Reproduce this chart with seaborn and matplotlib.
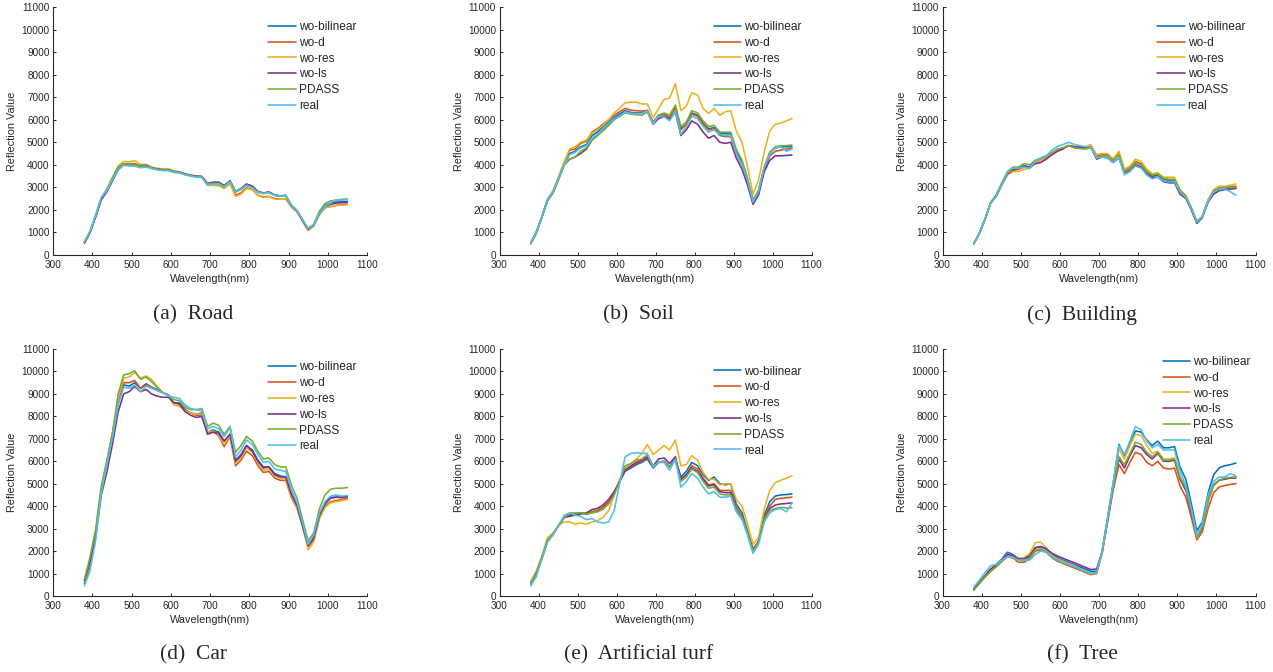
import matplotlib
matplotlib.use("Agg")
import pandas as pd
import matplotlib.pyplot as plt
import seaborn as sns

wavelength = [380, 394, 409, 423, 437, 452, 466, 480, 494, 508, 523, 537, 551, 565, 580, 594,
              608, 622, 637, 651, 665, 679, 694, 708, 722, 736, 751, 765, 779, 793, 808, 822,
              836, 850, 865, 879, 893, 907, 922, 936, 950, 964, 979, 993, 1007, 1021, 1036, 1050]

methods = ["wo-bilinear", "wo-d", "wo-res", "wo-ls", "PDASS", "real"]
colors = ["#0072BD", "#D95319", "#EDB120", "#7E2F8E", "#77AC30", "#4DBEEE"]

# (a) Road
road_bilinear = [560, 1000, 1750, 2500, 2850, 3350, 3850, 4050, 4000, 4000, 3920, 3950, 3850, 3800, 3760, 3760, 3680, 3660, 3570, 3520, 3480, 3470, 3150, 3200, 3220, 3070, 3280, 2800, 2920, 3130, 3030, 2820, 2740, 2780, 2650, 2620, 2640, 2200, 1950, 1550, 1150, 1330, 1900, 2200, 2300, 2350, 2370, 2380]
road_d = [550, 1000, 1750, 2500, 2850, 3400, 3900, 4050, 4050, 4050, 3950, 3980, 3870, 3820, 3770, 3780, 3700, 3680, 3580, 3520, 3480, 3460, 3100, 3100, 3080, 2980, 3200, 2650, 2760, 2980, 2900, 2650, 2580, 2600, 2500, 2480, 2480, 2150, 1900, 1500, 1100, 1300, 1800, 2100, 2150, 2200, 2230, 2250]
road_res = [550, 1000, 1750, 2520, 2900, 3450, 3950, 4150, 4130, 4180, 4020, 4020, 3900, 3850, 3820, 3830, 3730, 3700, 3600, 3540, 3500, 3480, 3120, 3100, 3070, 2950, 3150, 2600, 2700, 2950, 2900, 2650, 2550, 2600, 2480, 2480, 2480, 2150, 1900, 1500, 1080, 1280, 1800, 2100, 2150, 2200, 2210, 2230]
road_ls = [520, 980, 1700, 2450, 2800, 3300, 3780, 4000, 4000, 4000, 3950, 3980, 3870, 3820, 3780, 3780, 3700, 3680, 3590, 3540, 3500, 3490, 3180, 3230, 3230, 3080, 3300, 2820, 2950, 3150, 3060, 2820, 2750, 2800, 2660, 2620, 2640, 2180, 1950, 1520, 1150, 1320, 1850, 2150, 2250, 2300, 2320, 2330]
road_pdass = [560, 1000, 1750, 2550, 2900, 3450, 3900, 4050, 4020, 4000, 3930, 3950, 3860, 3800, 3770, 3770, 3690, 3670, 3570, 3520, 3480, 3470, 3150, 3180, 3180, 3050, 3270, 2820, 2930, 3100, 3000, 2800, 2740, 2780, 2650, 2620, 2640, 2230, 1970, 1560, 1180, 1350, 1950, 2280, 2400, 2430, 2470, 2480]
road_real = [600, 1050, 1800, 2550, 2850, 3350, 3800, 3980, 3950, 3940, 3870, 3900, 3830, 3780, 3740, 3740, 3660, 3640, 3550, 3500, 3450, 3440, 3100, 3150, 3150, 3020, 3250, 2800, 2900, 3080, 2980, 2780, 2720, 2760, 2640, 2600, 2620, 2200, 1950, 1550, 1180, 1330, 1850, 2150, 2300, 2450, 2430, 2480]

# (b) Soil
soil_bilinear = [550, 1000, 1700, 2450, 2800, 3450, 4050, 4500, 4600, 4800, 4900, 5300, 5450, 5700, 5900, 6100, 6250, 6400, 6320, 6300, 6300, 6380, 5850, 6180, 6220, 6050, 6550, 5600, 5800, 6300, 6200, 5850, 5600, 5650, 5400, 5380, 5380, 4600, 4100, 3350, 2400, 2850, 3900, 4550, 4750, 4800, 4800, 4800]
soil_d = [550, 1000, 1700, 2450, 2800, 3450, 4100, 4650, 4700, 4950, 5050, 5450, 5600, 5800, 6000, 6200, 6350, 6500, 6420, 6400, 6380, 6420, 5900, 6200, 6250, 6100, 6550, 5550, 5800, 6250, 6150, 5800, 5550, 5600, 5300, 5250, 5250, 4500, 4000, 3300, 2350, 2800, 3800, 4400, 4600, 4650, 4700, 4720]
soil_res = [550, 1000, 1700, 2500, 2850, 3500, 4150, 4700, 4800, 5000, 5100, 5400, 5550, 5750, 6000, 6300, 6500, 6750, 6780, 6780, 6700, 6700, 6100, 6500, 6900, 6950, 7600, 6400, 6600, 7200, 7100, 6500, 6280, 6500, 6200, 6350, 6400, 5500, 5000, 3900, 2700, 3300, 4600, 5500, 5800, 5850, 5950, 6050]
soil_ls = [500, 950, 1700, 2400, 2750, 3400, 4000, 4250, 4350, 4500, 4700, 5100, 5300, 5550, 5800, 6050, 6150, 6350, 6300, 6300, 6300, 6400, 5800, 6050, 6150, 6000, 6350, 5300, 5550, 5950, 5800, 5450, 5180, 5300, 5000, 4950, 5000, 4300, 3800, 3100, 2250, 2650, 3700, 4200, 4400, 4400, 4420, 4430]
soil_pdass = [500, 950, 1700, 2400, 2750, 3350, 4000, 4250, 4350, 4600, 4750, 5100, 5300, 5500, 5750, 6000, 6150, 6300, 6250, 6220, 6200, 6350, 5800, 6200, 6300, 6200, 6650, 5700, 5900, 6400, 6300, 5950, 5700, 5750, 5450, 5450, 5450, 4700, 4200, 3400, 2450, 2850, 3900, 4550, 4800, 4850, 4850, 4880]
soil_real = [550, 1000, 1700, 2450, 2800, 3400, 4000, 4450, 4550, 4750, 4850, 5200, 5350, 5600, 5850, 6050, 6150, 6350, 6280, 6280, 6280, 6400, 5850, 6150, 6150, 5950, 6400, 5350, 5700, 6150, 6050, 5700, 5450, 5550, 5350, 5300, 5300, 4500, 4000, 3300, 2350, 2800, 3900, 4500, 4750, 4800, 4600, 4700]

# (c) Building
building_bilinear = [500, 950, 1600, 2300, 2650, 3200, 3650, 3800, 3850, 3950, 3900, 4150, 4250, 4350, 4500, 4650, 4750, 4850, 4800, 4780, 4750, 4780, 4350, 4420, 4400, 4200, 4450, 3700, 3850, 4100, 4000, 3700, 3500, 3550, 3350, 3300, 3300, 2800, 2550, 2050, 1450, 1700, 2400, 2800, 2900, 2950, 2980, 3000]
building_d = [500, 950, 1600, 2300, 2600, 3150, 3600, 3750, 3800, 3900, 3850, 4100, 4200, 4300, 4500, 4650, 4750, 4850, 4800, 4780, 4780, 4800, 4400, 4450, 4450, 4250, 4500, 3750, 3900, 4150, 4050, 3750, 3550, 3600, 3400, 3350, 3350, 2850, 2600, 2050, 1450, 1700, 2450, 2850, 3000, 3000, 3030, 3050]
building_res = [500, 950, 1600, 2300, 2600, 3100, 3550, 3700, 3700, 3800, 3850, 4100, 4200, 4300, 4500, 4650, 4750, 4850, 4780, 4780, 4800, 4900, 4450, 4500, 4500, 4250, 4600, 3800, 3950, 4250, 4150, 3800, 3600, 3650, 3450, 3450, 3450, 2900, 2650, 2100, 1500, 1700, 2450, 2900, 3050, 3050, 3100, 3150]
building_ls = [500, 950, 1600, 2300, 2600, 3150, 3600, 3800, 3850, 3950, 3900, 4050, 4100, 4250, 4450, 4600, 4700, 4850, 4800, 4780, 4750, 4780, 4250, 4350, 4300, 4100, 4300, 3650, 3750, 4000, 3900, 3600, 3450, 3450, 3250, 3200, 3200, 2700, 2500, 2000, 1400, 1650, 2350, 2700, 2850, 2900, 2920, 2950]
building_pdass = [500, 950, 1600, 2350, 2650, 3200, 3700, 3900, 3900, 4050, 4000, 4200, 4300, 4400, 4550, 4700, 4750, 4850, 4750, 4720, 4700, 4750, 4350, 4400, 4400, 4200, 4450, 3700, 3850, 4100, 4000, 3700, 3550, 3600, 3400, 3350, 3350, 2850, 2600, 2100, 1500, 1700, 2400, 2850, 2950, 3000, 3000, 3000]
building_real = [500, 950, 1600, 2300, 2600, 3150, 3650, 3850, 3850, 3900, 3850, 4150, 4300, 4400, 4650, 4820, 4900, 5000, 4900, 4850, 4800, 4780, 4300, 4350, 4300, 4100, 4300, 3550, 3700, 3950, 3850, 3550, 3380, 3450, 3280, 3250, 3250, 2800, 2550, 2050, 1450, 1700, 2400, 2800, 2900, 2950, 2800, 2650]

# (d) Car
car_bilinear = [550, 1300, 2800, 4700, 5900, 7200, 8600, 9400, 9350, 9500, 9250, 9450, 9300, 9200, 9050, 8950, 8600, 8600, 8300, 8150, 8100, 8150, 7300, 7400, 7300, 6900, 7200, 6050, 6300, 6700, 6500, 6050, 5750, 5750, 5450, 5350, 5300, 4600, 4000, 3150, 2300, 2600, 3600, 4150, 4400, 4400, 4420, 4450]
car_d = [650, 1400, 2900, 4750, 5950, 7300, 8700, 9500, 9500, 9600, 9250, 9400, 9300, 9150, 9050, 8950, 8600, 8550, 8250, 8150, 8050, 8050, 7250, 7300, 7150, 6650, 7100, 5800, 6050, 6450, 6250, 5800, 5500, 5550, 5250, 5150, 5150, 4400, 3900, 3100, 2200, 2500, 3500, 4000, 4200, 4250, 4300, 4350]
car_res = [650, 1400, 2900, 4800, 6000, 7300, 8800, 9700, 9750, 9950, 9700, 9800, 9650, 9350, 9050, 8950, 8500, 8450, 8250, 8150, 8100, 8100, 7300, 7350, 7200, 6750, 7150, 5900, 6150, 6600, 6400, 5950, 5600, 5650, 5350, 5250, 5200, 4450, 3900, 3100, 2050, 2400, 3450, 3950, 4150, 4200, 4250, 4300]
car_ls = [700, 1500, 2700, 4500, 5500, 6800, 8200, 9000, 9100, 9330, 9100, 9200, 9000, 8900, 8850, 8850, 8600, 8550, 8200, 8050, 7950, 8000, 7200, 7300, 7250, 6900, 7200, 6000, 6250, 6700, 6450, 6000, 5700, 5750, 5400, 5300, 5300, 4550, 4000, 3100, 2250, 2550, 3600, 4100, 4350, 4400, 4380, 4420]
car_pdass = [750, 1700, 3000, 4900, 6000, 7300, 9000, 9850, 9900, 10030, 9650, 9750, 9550, 9300, 9050, 8950, 8750, 8700, 8400, 8300, 8300, 8350, 7550, 7700, 7600, 7200, 7550, 6400, 6700, 7100, 6900, 6450, 6100, 6150, 5850, 5750, 5750, 4950, 4350, 3400, 2450, 2800, 3900, 4500, 4750, 4800, 4800, 4830]
car_real = [450, 1100, 2500, 4600, 5800, 7100, 8500, 9300, 9250, 9400, 9100, 9350, 9250, 9150, 9050, 8900, 8850, 8800, 8500, 8350, 8300, 8250, 7450, 7550, 7450, 7100, 7500, 6200, 6500, 6950, 6750, 6300, 5950, 6000, 5650, 5600, 5550, 4750, 4150, 3250, 2300, 2700, 3700, 4200, 4450, 4500, 4450, 4480]

# (e) Artificial turf
turf_bilinear = [550, 1000, 1700, 2450, 2750, 3150, 3500, 3600, 3650, 3700, 3650, 3750, 3800, 3950, 4200, 4600, 5100, 5550, 5700, 5850, 5950, 6100, 5700, 5950, 6000, 5750, 6100, 5300, 5550, 5950, 5800, 5400, 5150, 5300, 5000, 4950, 5000, 4100, 3700, 2900, 2000, 2450, 3600, 4200, 4450, 4500, 4520, 4550]
turf_d = [550, 1000, 1700, 2450, 2750, 3150, 3500, 3600, 3650, 3700, 3650, 3750, 3800, 3950, 4200, 4600, 5100, 5600, 5750, 5900, 6000, 6150, 5750, 5950, 6000, 5750, 6100, 5200, 5400, 5800, 5650, 5250, 4950, 5000, 4700, 4700, 4700, 3950, 3550, 2800, 2100, 2400, 3500, 4000, 4300, 4350, 4380, 4400]
turf_res = [650, 1100, 1800, 2600, 2800, 3150, 3300, 3300, 3200, 3250, 3200, 3300, 3350, 3500, 3800, 4500, 5200, 5700, 5900, 6100, 6350, 6750, 6300, 6500, 6700, 6500, 6950, 5800, 5850, 6250, 6050, 5500, 5200, 5200, 4950, 5000, 5000, 4300, 4000, 3200, 2300, 2600, 3900, 4700, 5050, 5150, 5250, 5350]
turf_ls = [550, 1000, 1700, 2450, 2750, 3150, 3500, 3550, 3600, 3650, 3700, 3850, 3900, 4050, 4300, 4650, 5100, 5600, 5800, 5950, 6050, 6200, 5800, 6100, 6150, 5900, 6200, 5200, 5400, 5700, 5550, 5200, 4900, 4950, 4650, 4600, 4600, 3850, 3500, 2800, 2050, 2400, 3400, 3900, 4050, 4100, 4120, 4150]
turf_pdass = [550, 1000, 1700, 2450, 2750, 3150, 3500, 3700, 3700, 3700, 3650, 3700, 3750, 3850, 4100, 4500, 5100, 5800, 5900, 6050, 6100, 6300, 5800, 5950, 6000, 5750, 6050, 5100, 5300, 5650, 5500, 5100, 4800, 4850, 4550, 4500, 4500, 3850, 3500, 2800, 2000, 2400, 3400, 3800, 3900, 3950, 3920, 3930]
turf_real = [450, 850, 1650, 2400, 2700, 3150, 3600, 3700, 3600, 3550, 3400, 3450, 3300, 3250, 3300, 3800, 5000, 6200, 6350, 6380, 6350, 6350, 5750, 5950, 5950, 5600, 6100, 4850, 5100, 5450, 5250, 4850, 4550, 4650, 4400, 4400, 4450, 3750, 3400, 2700, 1900, 2300, 3300, 3700, 3850, 3900, 3750, 4150]

# (f) Tree
tree_bilinear = [300, 600, 900, 1200, 1400, 1650, 1950, 1850, 1650, 1650, 1750, 2150, 2200, 2100, 1850, 1700, 1600, 1500, 1400, 1300, 1200, 1100, 1100, 2000, 3500, 5000, 6750, 6250, 6800, 7350, 7300, 6950, 6700, 6900, 6600, 6600, 6650, 5750, 5200, 4100, 2900, 3300, 4600, 5400, 5700, 5800, 5850, 5920]
tree_d = [300, 550, 850, 1100, 1300, 1550, 1750, 1700, 1500, 1500, 1650, 2000, 2050, 1950, 1700, 1550, 1450, 1350, 1250, 1150, 1050, 950, 1000, 1900, 3300, 4700, 5850, 5450, 5950, 6400, 6300, 5950, 5800, 6000, 5700, 5650, 5700, 4900, 4400, 3500, 2500, 2850, 3900, 4600, 4850, 4920, 4970, 5000]
tree_res = [300, 600, 900, 1200, 1350, 1600, 1850, 1800, 1700, 1700, 1900, 2380, 2400, 2150, 1800, 1650, 1550, 1450, 1350, 1200, 1100, 1000, 1050, 1950, 3400, 4900, 6550, 6100, 6700, 7200, 7150, 6700, 6350, 6450, 6100, 6100, 6150, 5300, 4800, 3800, 2600, 3000, 4200, 4900, 5150, 5250, 5280, 5300]
tree_ls = [300, 600, 900, 1200, 1350, 1600, 1850, 1800, 1650, 1650, 1800, 2150, 2200, 2100, 1900, 1780, 1680, 1580, 1480, 1380, 1280, 1180, 1200, 1950, 3400, 4800, 6100, 5700, 6250, 6700, 6600, 6300, 6100, 6350, 6000, 6000, 6050, 5200, 4700, 3700, 2650, 3000, 4300, 4950, 5150, 5200, 5250, 5250]
tree_pdass = [250, 550, 850, 1100, 1300, 1550, 1750, 1700, 1600, 1550, 1700, 2050, 2100, 2000, 1750, 1600, 1500, 1400, 1300, 1200, 1100, 1000, 1050, 1950, 3400, 4800, 6200, 5850, 6350, 6850, 6750, 6400, 6200, 6400, 6050, 6050, 6100, 5300, 4800, 3800, 2650, 3050, 4250, 4950, 5150, 5250, 5280, 5300]
tree_real = [400, 700, 1050, 1350, 1400, 1600, 1750, 1700, 1600, 1600, 1600, 1850, 2000, 1950, 1750, 1600, 1500, 1400, 1300, 1200, 1100, 1000, 1000, 2000, 3500, 5000, 6700, 6300, 6900, 7550, 7400, 6900, 6600, 6750, 6500, 6500, 6500, 5600, 4900, 3900, 2700, 3200, 4500, 5100, 5300, 5300, 5450, 5350]

captions = ["(a)  Road", "(b)  Soil", "(c)  Building",
            "(d)  Car", "(e)  Artificial turf", "(f)  Tree"]
panel_series = [
    [road_bilinear, road_d, road_res, road_ls, road_pdass, road_real],
    [soil_bilinear, soil_d, soil_res, soil_ls, soil_pdass, soil_real],
    [building_bilinear, building_d, building_res, building_ls, building_pdass, building_real],
    [car_bilinear, car_d, car_res, car_ls, car_pdass, car_real],
    [turf_bilinear, turf_d, turf_res, turf_ls, turf_pdass, turf_real],
    [tree_bilinear, tree_d, tree_res, tree_ls, tree_pdass, tree_real],
]


def panel_frame(series):
    parts = []
    for name, vals in zip(methods, series):
        parts.append(pd.DataFrame({"wavelength": wavelength, "value": vals, "method": name}))
    return pd.concat(parts, ignore_index=True)


def main():
    W, H = 1273, 672
    sns.set_style("ticks")
    plt.rcParams["font.family"] = ["Liberation Sans", "DejaVu Sans"]
    plt.rcParams["axes.edgecolor"] = "#262626"
    plt.rcParams["xtick.color"] = "#262626"
    plt.rcParams["ytick.color"] = "#262626"
    plt.rcParams["axes.labelcolor"] = "#262626"

    fig = plt.figure(figsize=(W / 100, H / 100), dpi=100)
    lefts = [53, 499.5, 942.5]
    widths = [314, 312, 313]
    # (top px, bottom px) of axes in each row
    rows = [(7, 255), (349, 596)]
    # legend anchor (x frac, y frac) per panel
    leg_pos = [(0.686, 0.944), (0.686, 0.944), (0.686, 0.944),
               (0.686, 0.95), (0.686, 0.933), (0.703, 0.972)]
    cap_y = [315, 655]

    for i, series in enumerate(panel_series):
        r, c = divmod(i, 3)
        top, bot = rows[r]
        ax = fig.add_axes([lefts[c] / W, 1 - bot / H, widths[c] / W, (bot - top) / H])
        df = panel_frame(series)
        sns.lineplot(data=df, x="wavelength", y="value", hue="method",
                     hue_order=methods, palette=colors, linewidth=1.15, ax=ax)
        ax.set_xlim(300, 1100)
        ax.set_ylim(0, 11000)
        ax.set_xticks(range(300, 1101, 100))
        ax.set_yticks(range(0, 11001, 1000))
        ax.tick_params(direction="in", length=2.5, width=0.7, labelsize=7.2)
        ax.tick_params(axis="x", pad=3.5)
        ax.tick_params(axis="y", pad=2.5)
        for side in ["top", "right"]:
            ax.spines[side].set_visible(False)
        for side in ["left", "bottom"]:
            ax.spines[side].set_linewidth(0.8)
        ax.set_xlabel("Wavelength(nm)", fontsize=7.8, labelpad=3)
        ax.set_ylabel("Reflection Value", fontsize=7.8, labelpad=3)

        handles, labels = ax.get_legend_handles_labels()
        pairs = [(h, l) for h, l in zip(handles, labels) if l in methods]
        ax.legend([p[0] for p in pairs], [p[1] for p in pairs],
                  loc="upper left", bbox_to_anchor=leg_pos[i], frameon=False,
                  fontsize=8.6, handlelength=2.3, handletextpad=0.25,
                  labelspacing=0.32, borderpad=0, borderaxespad=0)

        cx = (lefts[c] + widths[c] / 2 - 17) / W
        fig.text(cx, 1 - cap_y[r] / H, captions[i], ha="center", va="center",
                 fontsize=15.5, family=["Liberation Serif", "DejaVu Serif"])

    fig.savefig("out.png", dpi=100)
    plt.close(fig)


if __name__ == "__main__":
    main()
